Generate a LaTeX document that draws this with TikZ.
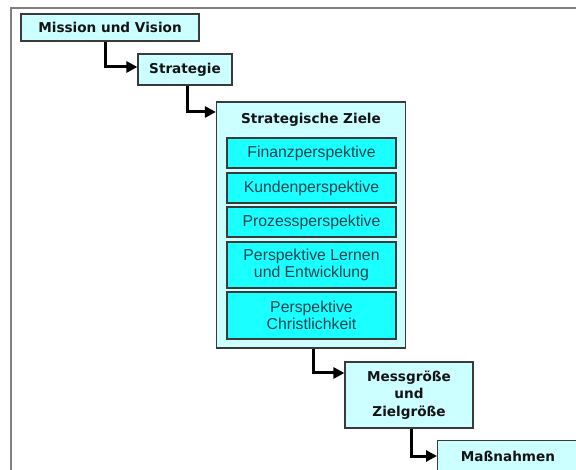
\documentclass[tikz,border=0pt]{standalone}
\usepackage{fontspec}
\setmainfont{DejaVu Sans}
\newfontfamily\arialf{Liberation Sans}
\usetikzlibrary{arrows.meta}
\definecolor{lightc}{HTML}{CCFFFF}
\definecolor{cyanc}{HTML}{1AFFFF}
\definecolor{inkc}{HTML}{141414}
\definecolor{tealtext}{HTML}{124450}
\definecolor{framec}{HTML}{808080}
\definecolor{borderc}{HTML}{3A3A3A}
\tikzset{
  lightbox/.style={draw=borderc, line width=1.2pt, fill=lightc, inner sep=0pt, align=center,
    text=inkc, font=\fontsize{13.6}{17.5}\selectfont\bfseries},
  innerbox/.style={draw=borderc, line width=1.2pt, fill=cyanc, inner sep=0pt, align=center,
    text=tealtext, font=\arialf\fontsize{15.8}{17}\selectfont, minimum width=169pt},
  titletext/.style={text=inkc, font=\fontsize{13.6}{16}\selectfont\bfseries, inner sep=0pt},
  arr/.style={line width=3pt, -{Triangle[length=11pt,width=11pt]}, black},
}
\begin{document}
\begin{tikzpicture}[x=1pt,y=-1pt]
\useasboundingbox (0,0) rectangle (576,470);
\clip (0,0) rectangle (576,470);
\draw[framec, line width=2pt] (11,8) rectangle (620,520);
% main boxes
\node[lightbox, minimum width=178pt, minimum height=27pt] (mission) at (110,27.5) {Mission und Vision};
\node[lightbox, minimum width=94pt, minimum height=31pt] (strategie) at (185,69.5) {Strategie};
\node[lightbox, minimum width=189pt, minimum height=246pt] (ziele) at (311,225) {};
\node[titletext] (zieletitle) at (311,120) {Strategische Ziele};
\node[innerbox, minimum height=30pt] (fin) at (311.5,153) {Finanzperspektive};
\node[innerbox, minimum height=30pt] (kunden) at (311.5,188) {Kundenperspektive};
\node[innerbox, minimum height=30pt] (prozess) at (311.5,222) {Prozessperspektive};
\node[innerbox, minimum height=46pt] (lernen) at (311.5,265) {Perspektive Lernen\\und Entwicklung};
\node[innerbox, minimum height=47pt] (christ) at (311.5,315.5) {Perspektive\\Christlichkeit};
\node[lightbox, minimum width=128pt, minimum height=66pt] (mess) at (409,395) {Messgröße\\und\\Zielgröße};
\node[lightbox, minimum width=142pt, minimum height=50pt, anchor=north west] (mass) at (437,440) {};
\node[titletext] (masstext) at (508,456) {Maßnahmen};
% connectors
\coordinate (c1) at (105,67);
\coordinate (c2) at (187,112);
\coordinate (c3) at (313,373);
\coordinate (c4) at (411,456);
\draw[arr] (mission.south -| c1) |- (c1 -| strategie.west);
\draw[arr] (strategie.south -| c2) |- (c2 -| ziele.west);
\draw[arr] (ziele.south -| c3) |- (c3 -| mess.west);
\draw[arr] (mess.south -| c4) |- (c4 -| mass.west);
\end{tikzpicture}
\end{document}
